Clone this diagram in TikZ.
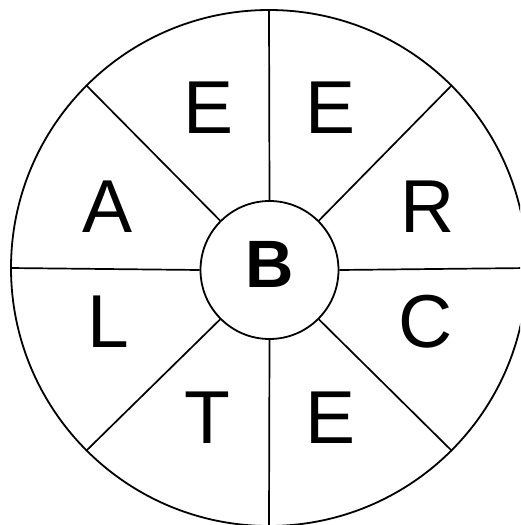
\documentclass[tikz,border=0pt]{standalone}
\usepackage{fontspec}
\setmainfont{Liberation Sans}
\begin{document}
\begin{tikzpicture}[x=1pt,y=-1pt,
  ring/.style={circle,draw,line width=1.8pt,inner sep=0pt},
  spoke/.style={line width=1.7pt},
  letter/.style={anchor=base,inner sep=0pt,font=\fontsize{75}{80}\selectfont}]
\useasboundingbox (0,0) rectangle (520,525);
\clip (0,0) rectangle (520,525);
\node[ring,minimum size=516pt] (outer) at (269,268) {};
\node[ring,minimum size=138pt] (inner) at (269.5,270) {};
\foreach \a in {0,45,...,315}{
  \draw[spoke] (inner.\a) -- (outer.\a);
}
\node[anchor=base,inner sep=0pt,font=\fontsize{67}{70}\selectfont\bfseries] (b) at (270,287) {B};
\node[letter] (e1) at (209,133) {E};
\node[letter] (e2) at (331,133) {E};
\node[letter] (a) at (108,232) {A};
\node[letter] (r) at (428,232) {R};
\node[letter] (l) at (108,347) {L};
\node[letter] (c) at (426,347) {C};
\node[letter] (t) at (207,443) {T};
\node[letter] (e3) at (331,443) {E};
\end{tikzpicture}
\end{document}
